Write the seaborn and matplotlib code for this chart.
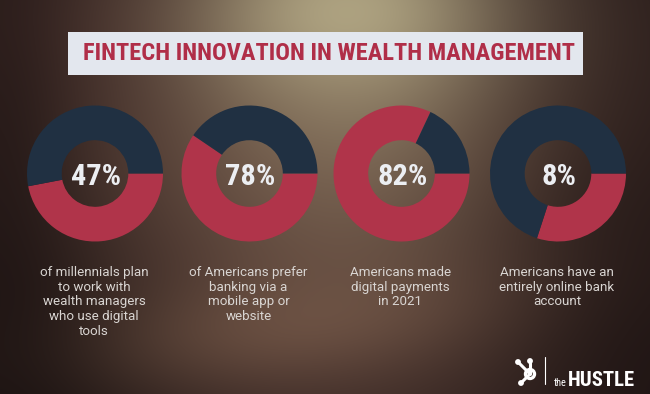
import numpy as np
import matplotlib
matplotlib.use("Agg")
import matplotlib.pyplot as plt
from matplotlib import font_manager
from matplotlib.patches import Rectangle, Circle
import seaborn as sns

# -------------------------
# Data
# -------------------------
pct_labels = ["47%", "78%", "82%", "8%"]
# share of each ring drawn in red (as it appears in the graphic)
red_share = [47, 59.5, 82, 30]
captions = [
    "of millennials plan\nto work with\nwealth managers\nwho use digital\ntools",
    "of Americans prefer\nbanking via a\nmobile app or\nwebsite",
    "Americans made\ndigital payments\nin 2021",
    "Americans have an\nentirely online bank\naccount",
]
title = "FINTECH INNOVATION IN WEALTH MANAGEMENT"

RED = "#B0344A"
NAVY = "#203042"
sns.set_theme(style="white")
palette = sns.color_palette([RED, NAVY])
plt.rcParams["font.family"] = ["Roboto", "DejaVu Sans"]

# pick the narrowest bold family that is installed
installed = {f.name for f in font_manager.fontManager.ttflist}
cond_candidates = ["Roboto Condensed", "Open Sans Condensed", "Liberation Sans Narrow",
                   "DejaVu Sans Condensed", "Roboto", "DejaVu Sans"]
COND = [f for f in cond_candidates if f in installed][:1] + ["DejaVu Sans"]

W, H = 650, 394
fig = plt.figure(figsize=(W / 100, H / 100), dpi=100)
renderer = fig.canvas.get_renderer()


def fit_width(t, target_px):
    # shrink/grow the font so the text spans the same width as in the graphic
    w = t.get_window_extent(renderer).width
    t.set_fontsize(t.get_fontsize() * target_px / w)
    return t.get_fontsize()


# -------------------------
# Background: dark brown with a light beam
# -------------------------
yy, xx = np.mgrid[0:H, 0:W].astype(float)
img = np.zeros((H, W, 3)) + np.array([30, 20, 20])


def blend(img, col, a, cx, cy, sx, sy, rot=0.0):
    c, s = np.cos(rot), np.sin(rot)
    dx, dy = xx - cx, yy - cy
    u = c * dx + s * dy
    v = -s * dx + c * dy
    w = a * np.exp(-0.5 * ((u / sx) ** 2 + (v / sy) ** 2))
    return img * (1 - w[..., None]) + np.array(col) * w[..., None]


img = blend(img, (100, 72, 62), 0.9, 320, 200, 300, 200)
img = blend(img, (70, 46, 42), 0.6, 120, 40, 140, 60)
img = blend(img, (128, 96, 78), 0.6, 240, 330, 220, 40, -0.12)
img = blend(img, (140, 122, 98), 0.55, 360, 140, 120, 100)
img = blend(img, (190, 180, 142), 0.85, 350, 10, 115, 75)
img = blend(img, (22, 14, 14), 0.65, 660, 320, 130, 200)
img = blend(img, (15, 10, 10), 0.65, 0, 394, 130, 140)
img = blend(img, (25, 16, 16), 0.55, 0, 170, 55, 200)

bg = fig.add_axes([0, 0, 1, 1])
bg.imshow(np.clip(img, 0, 255).astype(np.uint8), extent=[0, W, H, 0], aspect="auto")
bg.set_xlim(0, W)
bg.set_ylim(H, 0)
bg.axis("off")

# title box
bg.add_patch(Rectangle((68, 32), 515, 43, facecolor="#E3E7EE", edgecolor="none"))
t = bg.text(329, 60, title, ha="center", va="baseline", color="#B02E48",
            fontsize=16.8, fontweight="bold", family=COND)
fit_width(t, 494)

# -------------------------
# Donuts
# -------------------------
probe = bg.text(0, 0, pct_labels[0], fontsize=20, fontweight="bold", family=COND)
pct_size = fit_width(probe, 50)
probe.remove()

centers_x = [95, 249.5, 401.5, 558]
cy, r = 173.5, 68
for cx, share, lab, cap in zip(centers_x, red_share, pct_labels, captions):
    ax = fig.add_axes([(cx - r) / W, (H - cy - r) / H, 2 * r / W, 2 * r / H])
    ax.pie([share, 100 - share], colors=palette, startangle=0, counterclock=False,
           radius=1, wedgeprops=dict(width=0.51, edgecolor="none"))
    ax.set_xlim(-1, 1)
    ax.set_ylim(-1, 1)
    ax.set_aspect("auto")
    ax.axis("off")
    bg.text(cx + 1, 185, lab, ha="center", va="baseline", color="#ECEEF2",
            fontsize=pct_size, fontweight="bold", family=COND)
    bg.text(cx - 1, 266, cap, ha="center", va="top", color="#D9D5D2",
            fontsize=9.6, linespacing=1.17)

# -------------------------
# Logo
# -------------------------
lw = 2.2
for ex, ey in [(518, 362), (530, 361), (521, 383)]:
    bg.plot([530, ex], [374, ey], color="white", lw=lw, solid_capstyle="round")
    bg.add_patch(Circle((ex, ey), 2.2, color="white"))
bg.add_patch(Circle((530, 374), 4.5, facecolor="none", edgecolor="white", lw=2.4))
bg.plot([545, 545], [357, 384], color="white", lw=0.8)
s = bg.text(554, 385.5, "the", ha="left", va="baseline", color="white", fontsize=8, family=COND)
fit_width(s, 13)
h = bg.text(568, 385.5, "HUSTLE", ha="left", va="baseline", color="white",
            fontsize=14.8, fontweight="bold", family=COND)
fit_width(h, 67)

fig.savefig("out.png", dpi=100)
